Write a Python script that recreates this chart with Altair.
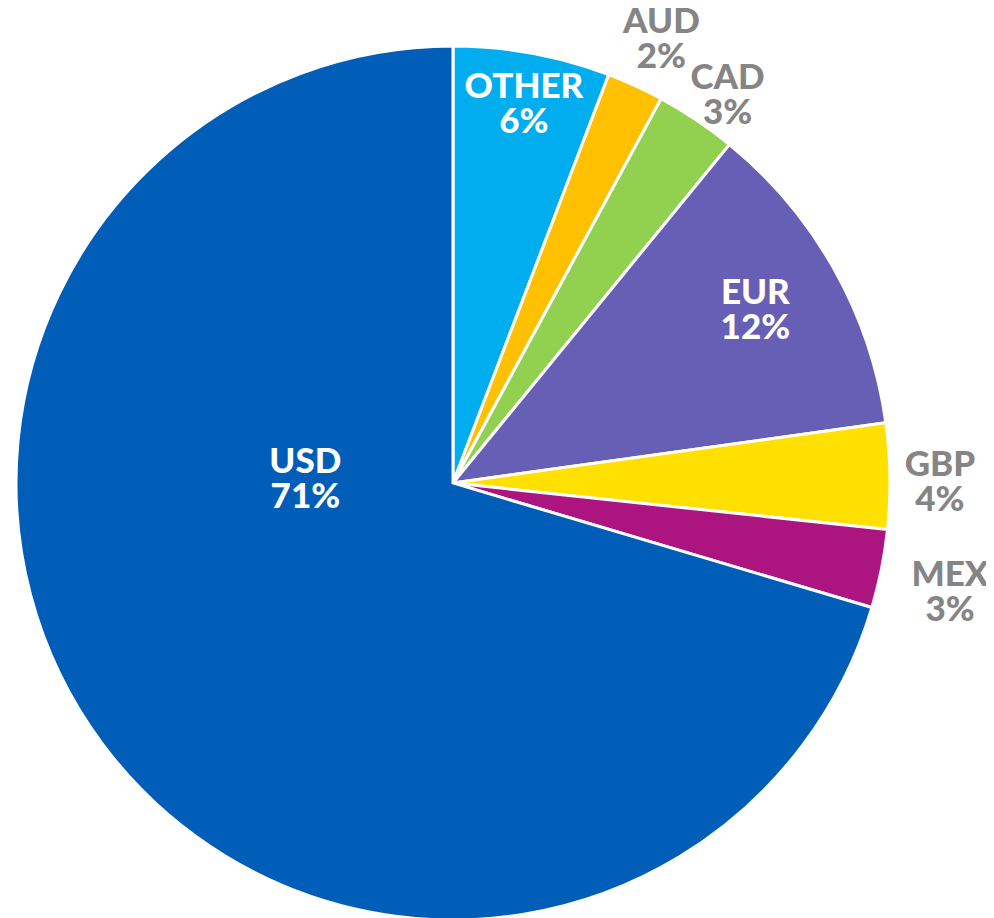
import altair as alt
import pandas as pd

currencies = ["OTHER", "AUD", "CAD", "EUR", "GBP", "MEX", "USD"]
shares = [5.8, 2.1, 3.0, 11.9, 3.9, 2.9, 70.4]
pct_labels = ["6%", "2%", "3%", "12%", "4%", "3%", "71%"]
colors = ["#00AEEF", "#FFC000", "#92D050", "#675EB5", "#FFE000", "#AC1580", "#005EB8"]

df = pd.DataFrame({
    "currency": currencies,
    "share": shares,
    "pct": pct_labels,
    "idx": list(range(len(currencies))),
})
df["label"] = df["currency"] + "\n" + df["pct"]

CX, CY, R = 445, 475, 437
theta_scale = alt.Scale(domain=[0, 100], range=[0, 6.283185307179586])
color_scale = alt.Scale(domain=currencies, range=colors)

base = alt.Chart(df).transform_stack(
    stack="share", groupby=[], as_=["s0", "s1"], sort=[alt.SortField("idx")]
).transform_calculate(mid="(datum.s0 + datum.s1) / 2")

pie = base.mark_arc(radius=R, stroke="white", strokeWidth=3).encode(
    theta=alt.Theta("s0:Q", scale=theta_scale),
    theta2="s1:Q",
    color=alt.Color("currency:N", scale=color_scale, legend=None),
    x=alt.value(CX),
    y=alt.value(CY),
)

GRAY = "#858585"
# label styles: (radius, dx, dy, color)
styles = {
    "OTHER": (386, 1, -16, "white"),
    "AUD": (490, 4, -16, GRAY),
    "CAD": (475, 10, -10, GRAY),
    "EUR": (348, -1, -19, "white"),
    "GBP": (487, 0, -10, GRAY),
    "MEX": (509, -2, -8, GRAY),
    "USD": (148, -29, -109, "white"),
}

layers = [pie]
for cur in currencies:
    r, dx, dy, col = styles[cur]
    layers.append(
        base.transform_filter(alt.datum.currency == cur).mark_text(
            radius=r, dx=dx, dy=dy, color=col, font="Lato", fontWeight=900,
            fontSize=35, lineBreak="\n", lineHeight=35, align="center", baseline="middle",
        ).encode(
            theta=alt.Theta("mid:Q", scale=theta_scale),
            text="label:N",
            x=alt.value(CX),
            y=alt.value(CY),
        )
    )

chart = alt.layer(*layers).properties(
    width=978, height=910, autosize="none", padding=0
).configure_view(stroke=None)

chart.save("out.html", embed_options={"renderer": "svg", "actions": False})
